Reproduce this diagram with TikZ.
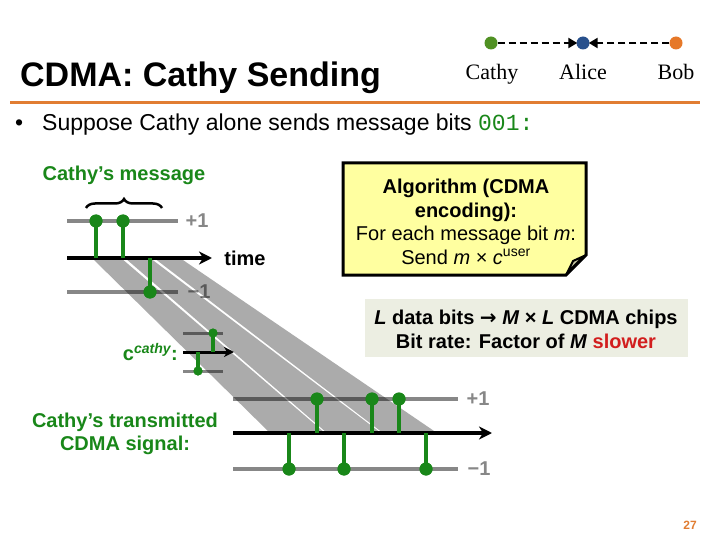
\documentclass[tikz,border=0pt]{standalone}
\usepackage{fontspec}
\setmainfont{Liberation Sans}
\newfontfamily\timesf{Liberation Serif}
\newfontfamily\dejavu{DejaVu Sans}
\setmonofont{Liberation Mono}
\usetikzlibrary{arrows.meta,decorations.pathreplacing}
\definecolor{cgreen}{RGB}{25,135,25}
\definecolor{dotgreen}{RGB}{80,145,35}
\definecolor{dotblue}{RGB}{40,80,140}
\definecolor{dotorange}{RGB}{230,120,40}
\definecolor{ruleorange}{RGB}{225,125,50}
\definecolor{lvlgrey}{RGB}{135,135,135}
\definecolor{noteyellow}{RGB}{255,255,160}
\definecolor{notegrey}{RGB}{236,238,226}
\definecolor{foldcol}{RGB}{195,195,160}
\definecolor{slowred}{RGB}{210,30,30}
\begin{document}
\begin{tikzpicture}[x=1pt,y=-1pt,
  lvlline/.style={draw=lvlgrey, line width=3.5pt},
  axisarrow/.style={draw=black, line width=3.5pt, -{Stealth[length=13pt,width=13pt,inset=4pt]}},
  smallaxis/.style={draw=black, line width=3pt, -{Stealth[length=10pt,width=10pt,inset=3pt]}},
  stemline/.style={draw=cgreen, line width=4pt},
  chipdot/.style={circle, fill=cgreen, inner sep=0pt, minimum size=13pt},
  smalldot/.style={circle, fill=cgreen, inner sep=0pt, minimum size=9pt},
  lvllabel/.style={text=lvlgrey, font=\fontsize{20}{22}\selectfont\bfseries},
  greenlabel/.style={text=cgreen, font=\fontsize{20}{23}\selectfont\bfseries, align=center},
  bandfill/.style={fill=black, opacity=0.33},
  partydot/.style={circle, inner sep=0pt, minimum size=13pt},
  partyname/.style={anchor=base, inner sep=0pt, font=\timesf\fontsize{22}{24}\selectfont},
  dasharrow/.style={draw=black, line width=2.5pt, dash pattern=on 7pt off 4pt, -{Triangle[length=9pt,width=10pt]}, shorten >=-1pt},
]
\useasboundingbox (0,0) rectangle (720,540);

% ---------- header ----------
\node[anchor=base west, inner sep=0pt, font=\fontsize{34}{38}\selectfont\bfseries] (title) at (20,87) {CDMA: Cathy Sending};
\node[partydot, fill=dotgreen] (pc) at (491,43) {};
\node[partydot, fill=dotblue] (pa) at (583,43) {};
\node[partydot, fill=dotorange] (pb) at (676,43) {};
\draw[dasharrow] (pc) -- (pa);
\draw[dasharrow] (pb) -- (pa);
\node[partyname] (ncathy) at (492,80) {Cathy};
\node[partyname] (nalice) at (583,80) {Alice};
\node[partyname] (nbob) at (676,80) {Bob};
\draw[ruleorange, line width=3pt] (10,103) -- (700,103);

% ---------- bullet ----------
\node[anchor=base west, inner sep=0pt, font=\fontsize{23}{25}\selectfont] (bul) at (15,131) {\textbullet};
\node[anchor=base west, inner sep=0pt, font=\fontsize{23}{25}\selectfont] (btext) at (42,131) {Suppose Cathy alone sends message bits \textcolor{cgreen}{\texttt{001:}}};

% ---------- message diagram (levels + axis) ----------
\coordinate (mpl) at (67,221); \coordinate (mpr) at (178,221);
\coordinate (mml) at (67,292); \coordinate (mmr) at (178,292);
\coordinate (mal) at (67,258); \coordinate (mar) at (212,258);
\draw[lvlline] (mpl) -- (mpr);
\draw[lvlline] (mml) -- (mmr);
\node[lvllabel] (mplus) at (197,221) {+1};
\node[lvllabel] (mminus) at (199,292) {\char"2212 1};

% c^cathy levels
\coordinate (cpl) at (183,333); \coordinate (cpr) at (223,333);
\coordinate (cml) at (183,371); \coordinate (cmr) at (223,371);
\draw[lvlline, line width=3pt] (cpl) -- (cpr);
\draw[lvlline, line width=3pt] (cml) -- (cmr);

% bottom signal levels
\coordinate (spl) at (233,399); \coordinate (spr) at (458,399);
\coordinate (sml) at (233,469); \coordinate (smr) at (458,469);
\coordinate (sal) at (233,433); \coordinate (sar) at (492,433);
\draw[lvlline] (spl) -- (spr);
\draw[lvlline] (sml) -- (smr);
\node[lvllabel] (splus) at (478,399) {+1};
\node[lvllabel] (sminus) at (479,469) {\char"2212 1};

% ---------- grey bands ----------
\fill[bandfill] (92,258) -- (121,258) -- (325,433) -- (270,433) -- cycle;
\fill[bandfill] (125,258) -- (150,258) -- (381,433) -- (327,433) -- cycle;
\fill[bandfill] (154,258) -- (180,258) -- (437,433) -- (383,433) -- cycle;

% ---------- axes ----------
\draw[axisarrow] (mal) -- (mar);
\node[font=\fontsize{20}{22}\selectfont\bfseries] (time) at (245,258) {time};
\coordinate (cal) at (183,352); \coordinate (car) at (234,352);
\draw[smallaxis] (cal) -- (car);
\draw[axisarrow] (sal) -- (sar);

% ---------- message stems ----------
\foreach \i/\x/\y in {1/96/221, 2/123/221, 3/150/292} {
  \coordinate (mb\i) at (\x,258);
  \node[chipdot] (md\i) at (\x,\y) {};
  \draw[stemline] (mb\i) -- (md\i.center);
}
\node[chipdot] at (md1) {};
\node[chipdot] at (md2) {};
\node[chipdot] at (md3) {};

% brace and label
\coordinate (brl) at (86,208); \coordinate (brr) at (162,208);
\draw[decorate, decoration={brace, amplitude=9pt}, line width=2.5pt] (brl) -- (brr);
\node[greenlabel] (msg) at (124,175) {Cathy’s message};

% ---------- c^cathy stems ----------
\coordinate (cb1) at (198,352); \coordinate (cb2) at (213,352);
\node[smalldot] (cd1) at (198,371) {};
\node[smalldot] (cd2) at (213,333) {};
\draw[stemline, line width=3.5pt] (cb1) -- (cd1.center);
\draw[stemline, line width=3.5pt] (cb2) -- (cd2.center);
\node[smalldot] at (cd1) {};
\node[smalldot] at (cd2) {};
\node[anchor=east, text=cgreen, font=\fontsize{20}{22}\selectfont\bfseries, inner sep=0pt] (clabel) at (178,352) {c\textsuperscript{\itshape cathy}:};

% ---------- transmitted signal stems ----------
\foreach \i/\x/\y in {1/289/469, 2/317/399, 3/344/469, 4/372/399, 5/399/399, 6/426/469} {
  \coordinate (sb\i) at (\x,433);
  \node[chipdot] (sd\i) at (\x,\y) {};
  \draw[stemline] (sb\i) -- (sd\i.center);
  \node[chipdot] at (sd\i) {};
}
\node[greenlabel] (txlabel) at (125,434) {Cathy’s transmitted\\CDMA signal:};

% ---------- algorithm note ----------
\draw[fill=noteyellow, line width=3pt, line join=miter] (343,163) -- (586,163) -- (586,255) -- (566,275) -- (343,275) -- cycle;
\filldraw[fill=foldcol, line width=2pt, line join=round] (567,273) -- (584,256) -- (573,261) -- cycle;
\node[align=center, font=\fontsize{20}{23.5}\selectfont] (algo) at (466,222)
  {\textbf{Algorithm (CDMA}\\\textbf{encoding):}\\For each message bit \textit{m}:\\Send \textit{m} × \textit{c}\textsuperscript{user}};

% ---------- rate note ----------
\fill[notegrey] (365,299) rectangle (688,357);
\node[align=center, font=\fontsize{20}{24}\selectfont\bfseries] (rate) at (526,329)
  {\textit{L} data bits {\dejavu\bfseries →} \textit{M} × \textit{L} CDMA chips\\Bit rate: Factor of \textit{M} \textcolor{slowred}{slower}};

% ---------- page number ----------
\node[text=ruleorange, font=\fontsize{12}{14}\selectfont\bfseries] (pnum) at (690,525) {27};
\end{tikzpicture}
\end{document}
